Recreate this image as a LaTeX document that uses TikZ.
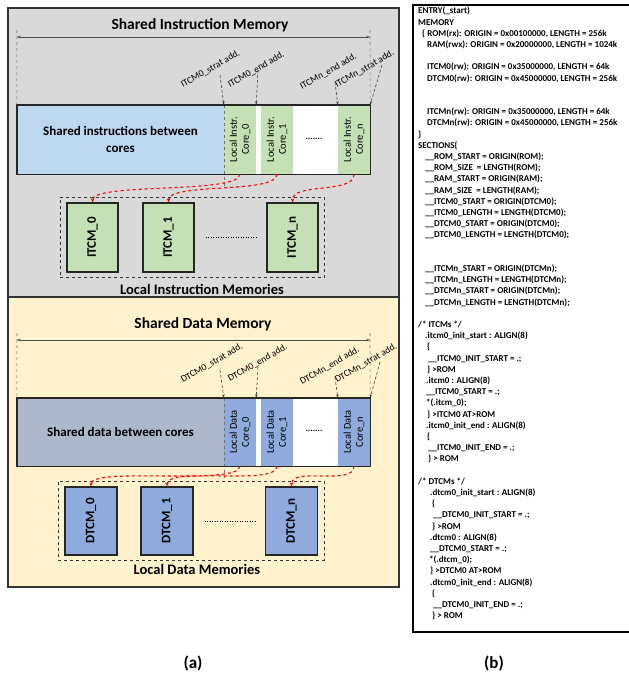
\documentclass[tikz,border=0pt]{standalone}
\usepackage{fontspec}
\setmainfont{Carlito}
\usetikzlibrary{arrows.meta,fit}

\definecolor{regiongray}{HTML}{D9D9D9}
\definecolor{regionyellow}{HTML}{FFF2CC}
\definecolor{instrblue}{HTML}{BDD7EE}
\definecolor{instrgreen}{HTML}{C5E0B4}
\definecolor{dataslate}{HTML}{ADB9CA}
\definecolor{datablue}{HTML}{8FAADC}

\newcommand{\codeindent}[1]{\hspace*{#1pt}}

\begin{document}
\begin{tikzpicture}[x=1pt, y=-1pt,
    region/.style={draw=black!80, line width=1.2pt, minimum width=391pt, inner sep=0pt},
    title/.style={font=\fontsize{15.5}{18}\selectfont\bfseries},
    membox/.style={minimum width=353pt, minimum height=69pt, inner sep=0pt},
    sharedpart/.style={minimum width=207pt, minimum height=69pt, inner sep=0pt, align=center, font=\fontsize{13}{17}\selectfont\bfseries},
    strip/.style={rotate=90, minimum width=69pt, minimum height=32pt, inner sep=0pt, align=center, font=\fontsize{10.5}{12}\selectfont},
    tcm/.style={rotate=90, draw=black!85, line width=1.3pt, minimum width=69pt, minimum height=51pt, inner sep=0pt, font=\fontsize{13}{15}\selectfont\bfseries},
    group/.style={draw=black!80, dashed, line width=0.9pt, inner xsep=6pt, inner ysep=5pt},
    addr/.style={rotate=30, anchor=base west, inner sep=0pt, font=\fontsize{9.5}{10}\selectfont},
    addrarrow/.style={densely dashed, draw=black!75, line width=0.6pt, -{Stealth[length=3.5pt,width=2.5pt]}},
    guide/.style={dashed, draw=black!55, line width=0.6pt},
    dimline/.style={draw=black!70, line width=0.6pt, {Stealth[length=3.5pt,width=2.5pt]}-{Stealth[length=3.5pt,width=2.5pt]}},
    link/.style={red, dashed, line width=1.1pt, -{Stealth[length=4pt,width=3.5pt]}},
    dots/.style={line width=1pt, dash pattern=on 1pt off 1.5pt},
    sublabel/.style={font=\fontsize{14.5}{17}\selectfont\bfseries},
    caption/.style={font=\fontsize{17}{20}\selectfont\bfseries}
]
\useasboundingbox (0,0) rectangle (629,675);

% ---- instruction side ----
\node[region, fill=regiongray, minimum height=289pt] (ireg) at (203.5,152.5) {};
\node[title] (ititle) at (200,25) {Shared Instruction Memory};
\coordinate (idimL) at (17,37);
\coordinate (idimR) at (370,37);

\node[membox, fill=white] (imem) at (193.5,139.5) {};
\node[sharedpart, fill=instrblue] (ishared) at (120.5,139.5) {Shared instructions between\\cores};
\node[strip, fill=instrgreen] (icore0) at (240,139.5) {Local Instr.\\Core\_0};
\node[strip, fill=instrgreen] (icore1) at (277,139.5) {Local Instr.\\Core\_1};
\node[strip, fill=instrgreen] (icoren) at (354,139.5) {Local Instr.\\Core\_n};
\node[font=\small\bfseries] (idots) at (314,139) {.......};
% strips are rotated: west is the bottom edge, east the top edge
\draw[guide] (icore0.north east) -- ([yshift=-13pt]icore0.north west);
\draw[line width=1.4pt, draw=black!85] (imem.north west) rectangle (imem.south east);

\draw[dimline] (idimL) -- (idimR);
\draw[guide] ([yshift=7pt]idimL) -- (imem.north west);
\draw[guide] ([yshift=7pt]idimR) -- (imem.north east);

\node[addr] (ia0lbl) at (183,88) {ITCM0\_strat add.};
\node[addr] (ia1lbl) at (230,88) {ITCM0\_end add.};
\node[addr] (ia2lbl) at (302,90) {ITCMn\_end add.};
\node[addr] (ia3lbl) at (337,88) {ITCMn\_strat add.};
\coordinate (ia0) at (220,75);
\coordinate (ia1) at (258,70);
\coordinate (ia2) at (335,82);
\coordinate (ia3) at (382,65);
\draw[addrarrow] (ia0) -- (icore0.north east);
\draw[addrarrow] (ia1) -- (icore0.south east);
\draw[addrarrow] (ia2) -- (icoren.north east);
\draw[addrarrow] (ia3) -- (imem.north east);

\node[tcm, fill=instrgreen] (itcm0) at (92.5,237.5) {ITCM\_0};
\node[tcm, fill=instrgreen] (itcm1) at (168.5,237.5) {ITCM\_1};
\node[tcm, fill=instrgreen] (itcmn) at (292.5,237.5) {ITCM\_n};
\node[group, fit=(itcm0)(itcmn)] (igroup) {};
\draw[dots, shorten <=11pt, shorten >=9pt] (itcm1) -- (itcmn);
\node[sublabel] (ilabel) at (202,289) {Local Instruction Memories};

\draw[link] (icore0.west) .. controls +(0,20) and +(0,-20) .. (itcm0.east);
\draw[link] (icore1.west) .. controls +(0,20) and +(0,-20) .. (itcm1.east);
\draw[link] (icoren.west) .. controls +(0,20) and +(0,-20) .. (itcmn.east);

% ---- data side ----
\node[region, fill=regionyellow, minimum height=290pt] (dreg) at (203.5,442) {};
\node[title] (dtitle) at (203,324) {Shared Data Memory};
\coordinate (ddimL) at (17,340);
\coordinate (ddimR) at (370,340);

\node[membox, minimum height=68pt, fill=white] (dmem) at (193.5,432) {};
\node[sharedpart, minimum height=68pt, fill=dataslate] (dshared) at (120.5,432) {Shared data between cores};
\node[strip, minimum width=68pt, fill=datablue] (dcore0) at (240,432) {Local Data\\Core\_0};
\node[strip, minimum width=68pt, fill=datablue] (dcore1) at (277,432) {Local Data\\Core\_1};
\node[strip, minimum width=68pt, fill=datablue] (dcoren) at (354,432) {Local Data\\Core\_n};
\node[font=\small\bfseries] (ddots) at (314,431) {.......};
\draw[guide] (dcore0.north east) -- ([yshift=-12pt]dcore0.north west);
\draw[line width=1.4pt, draw=black!85] (dmem.north west) rectangle (dmem.south east);

\draw[dimline] (ddimL) -- (ddimR);
\draw[guide] ([yshift=7pt]ddimL) -- (dmem.north west);
\draw[guide] ([yshift=7pt]ddimR) -- (dmem.north east);

\node[addr] (da0lbl) at (183,383) {DTCM0\_strat add.};
\node[addr] (da1lbl) at (230,382) {DTCM0\_end add.};
\node[addr] (da2lbl) at (302,385) {DTCMn\_end add.};
\node[addr] (da3lbl) at (337,383) {DTCMn\_strat add.};
\coordinate (da0) at (220,370);
\coordinate (da1) at (258,367);
\coordinate (da2) at (335,377);
\coordinate (da3) at (380,362);
\draw[addrarrow] (da0) -- (dcore0.north east);
\draw[addrarrow] (da1) -- (dcore0.south east);
\draw[addrarrow] (da2) -- (dcoren.north east);
\draw[addrarrow] (da3) -- (dmem.north east);

\node[tcm, minimum width=68pt, minimum height=52pt, fill=datablue] (dtcm0) at (91,521) {DTCM\_0};
\node[tcm, minimum width=68pt, minimum height=52pt, fill=datablue] (dtcm1) at (167,521) {DTCM\_1};
\node[tcm, minimum width=68pt, minimum height=52pt, fill=datablue] (dtcmn) at (291.5,521) {DTCM\_n};
\node[group, fit=(dtcm0)(dtcmn)] (dgroup) {};
\draw[dots, shorten <=11pt, shorten >=9pt] (dtcm1) -- (dtcmn);
\node[sublabel] (dlabel) at (197,569) {Local Data Memories};

\draw[link] (dcore0.west) .. controls +(0,20) and +(0,-20) .. (dtcm0.east);
\draw[link] (dcore1.west) .. controls +(0,20) and +(0,-20) .. (dtcm1.east);
\draw[link] (dcoren.west) .. controls +(0,20) and +(0,-20) .. (dtcmn.east);

% ---- linker script ----
\draw[line width=2pt] (629,5) -- (413,5) -- (413,632) -- (629,632);
\node[anchor=north west, inner sep=0pt, align=left, font=\fontsize{9}{11.2}\selectfont\bfseries] (script) at (418,7) {%
ENTRY(\_start)\\
MEMORY\\
\codeindent{4}\{ ROM(rx): ORIGIN = 0x00100000, LENGTH = 256k\\
\codeindent{9}RAM(rwx): ORIGIN = 0x20000000, LENGTH = 1024k\\
\mbox{}\\
\codeindent{9}ITCM0(rw): ORIGIN = 0x35000000, LENGTH = 64k\\
\codeindent{9}DTCM0(rw): ORIGIN = 0x45000000, LENGTH = 256k\\
\mbox{}\\
\mbox{}\\
\codeindent{9}ITCMn(rw): ORIGIN = 0x35000000, LENGTH = 64k\\
\codeindent{9}DTCMn(rw): ORIGIN = 0x45000000, LENGTH = 256k\\
\}\\
SECTIONS\{\\
\codeindent{7}\_\_ROM\_START = ORIGIN(ROM);\\
\codeindent{7}\_\_ROM\_SIZE \ = LENGTH(ROM);\\
\codeindent{7}\_\_RAM\_START = ORIGIN(RAM);\\
\codeindent{7}\_\_RAM\_SIZE \ = LENGTH(RAM);\\
\codeindent{7}\_\_ITCM0\_START = ORIGIN(DTCM0);\\
\codeindent{7}\_\_ITCM0\_LENGTH = LENGTH(DTCM0);\\
\codeindent{7}\_\_DTCM0\_START = ORIGIN(DTCM0);\\
\codeindent{7}\_\_DTCM0\_LENGTH = LENGTH(DTCM0);\\
\mbox{}\\
\mbox{}\\
\codeindent{7}\_\_ITCMn\_START = ORIGIN(DTCMn);\\
\codeindent{7}\_\_ITCMn\_LENGTH = LENGTH(DTCMn);\\
\codeindent{7}\_\_DTCMn\_START = ORIGIN(DTCMn);\\
\codeindent{7}\_\_DTCMn\_LENGTH = LENGTH(DTCMn);\\
\mbox{}\\
/* ITCMs */\\
\codeindent{7}.itcm0\_init\_start : ALIGN(8)\\
\codeindent{9}\{\\
\codeindent{10}\_\_ITCM0\_INIT\_START = .;\\
\codeindent{9}\} >ROM\\
\codeindent{8}.itcm0 : ALIGN(8)\\
\codeindent{8}\_\_ITCM0\_START = .;\\
\codeindent{8}*(.itcm\_0);\\
\codeindent{9}\} >ITCM0 AT>ROM\\
\codeindent{8}.itcm0\_init\_end : ALIGN(8)\\
\codeindent{9}\{\\
\codeindent{10}\_\_ITCM0\_INIT\_END = .;\\
\codeindent{10}\} > ROM\\
\mbox{}\\
/* DTCMs */\\
\codeindent{12}.dtcm0\_init\_start : ALIGN(8)\\
\codeindent{14}\{\\
\codeindent{15}\_\_DTCM0\_INIT\_START = .;\\
\codeindent{14}\} >ROM\\
\codeindent{12}.dtcm0 : ALIGN(8)\\
\codeindent{12}\_\_DTCM0\_START = .;\\
\codeindent{11}*(.dtcm\_0);\\
\codeindent{12}\} >DTCM0 AT>ROM\\
\codeindent{12}.dtcm0\_init\_end : ALIGN(8)\\
\codeindent{14}\{\\
\codeindent{15}\_\_DTCM0\_INIT\_END = .;\\
\codeindent{14}\} > ROM};

\node[caption] (capa) at (193,663) {(a)};
\node[caption] (capb) at (494,663) {(b)};
\end{tikzpicture}
\end{document}
